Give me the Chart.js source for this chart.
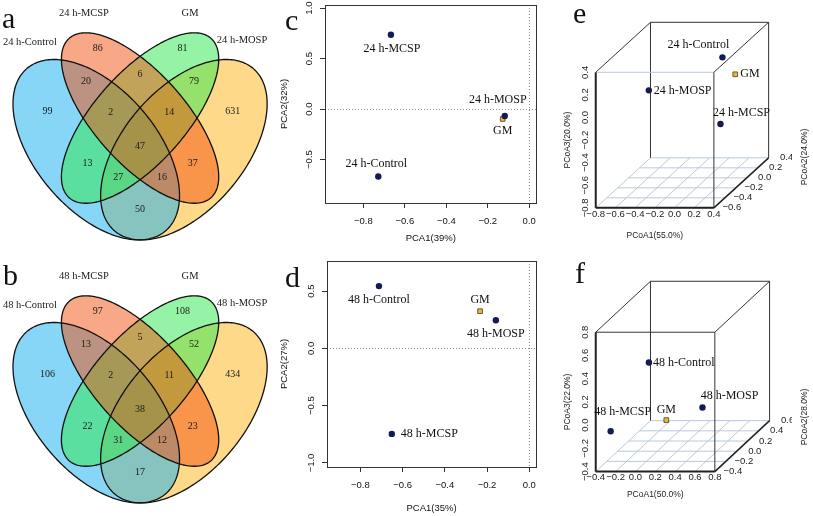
<!DOCTYPE html>
<html><head><meta charset="utf-8">
<script src="https://cdn.jsdelivr.net/npm/chart.js@4.4.1/dist/chart.umd.min.js"></script>
<style>
html,body{margin:0;padding:0;background:#fff;overflow:hidden;}
#fig{position:relative;width:813px;height:516px;background:#fff;overflow:hidden;}
#fig canvas{position:absolute;display:block;}
</style></head><body>
<div id="fig">
<canvas id="va" width="280" height="250" style="left:0px;top:0px;width:280px;height:250px"></canvas>
<canvas id="vb" width="280" height="250" style="left:0px;top:263px;width:280px;height:250px"></canvas>
<canvas id="pc" width="268" height="250" style="left:276px;top:0px;width:268px;height:250px"></canvas>
<canvas id="pd" width="268" height="260" style="left:276px;top:256px;width:268px;height:260px"></canvas>
<canvas id="pe" width="253" height="258" style="left:560px;top:0px;width:253px;height:258px"></canvas>
<canvas id="pf" width="253" height="258" style="left:560px;top:258px;width:253px;height:258px"></canvas>
</div>
<script>
// ================= DATA =================
const vennSets24 = ['24 h-Control', '24 h-MCSP', 'GM', '24 h-MOSP'];
const vennSets48 = ['48 h-Control', '48 h-MCSP', 'GM', '48 h-MOSP'];
// region order: C, M, G, O, CM, MG, GO, CMG, MGO, CMGO, CG, MO, CGO, CMO, CO
const vennRegions = ['C','M','G','O','CM','MG','GO','CMG','MGO','CMGO','CG','MO','CGO','CMO','CO'];
const vennCounts24 = [99, 86, 81, 631, 20, 6, 79, 2, 14, 47, 13, 37, 27, 16, 50];
const vennCounts48 = [106, 97, 108, 434, 13, 5, 52, 2, 11, 38, 22, 23, 31, 12, 17];

const pcaNames24 = ['24 h-MCSP', '24 h-Control', '24 h-MOSP', 'GM'];
const pca1_24 = [-0.667, -0.728, -0.118, -0.128];
const pca2_24 = [0.735, -0.667, -0.069, -0.098];
const pcaNames48 = ['48 h-Control', 'GM', '48 h-MOSP', '48 h-MCSP'];
const pca1_48 = [-0.712, -0.233, -0.158, -0.651];
const pca2_48 = [0.544, 0.325, 0.246, -0.746];
const pcaXTicks = [-0.8, -0.6, -0.4, -0.2, 0.0];
const pcaYTicks24 = [-0.5, 0.0, 0.5, 1.0];
const pcaYTicks48 = [-1.0, -0.5, 0.0, 0.5];

const pcoaNames24 = ['24 h-Control', 'GM', '24 h-MOSP', '24 h-MCSP'];
const pcoa1_24 = [0.22, 0.25, -0.60, 0.15];
const pcoa2_24 = [-0.12, 0.06, 0.01, -0.03];
const pcoa3_24 = [0.32, 0.09, -0.03, -0.31];
const pcoaNames48 = ['48 h-Control', 'GM', '48 h-MOSP', '48 h-MCSP'];
const pcoa1_48 = [-0.14, -0.02, 0.51, -0.36];
const pcoa2_48 = [0.10, 0.20, -0.10, -0.20];
const pcoa3_48 = [0.32, -0.22, 0.02, -0.14];
const pcoaXTicks24 = [-0.8, -0.6, -0.4, -0.2, 0.0, 0.2, 0.4];
const pcoaYTicks24 = [-0.6, -0.4, -0.2, 0.0, 0.2, 0.4];
const pcoaZTicks24 = [-0.8, -0.6, -0.4, -0.2, 0.0, 0.2, 0.4];
const pcoaXTicks48 = [-0.4, -0.2, 0.0, 0.2, 0.4, 0.6, 0.8];
const pcoaYTicks48 = [-0.4, -0.2, 0.0, 0.2, 0.4, 0.6];
const pcoaZTicks48 = [-0.4, -0.2, 0.0, 0.2, 0.4, 0.6, 0.8];

// ================= STYLE / LAYOUT =================
const SANS = "'Liberation Sans', Arial, Helvetica, sans-serif";
const SERIF = "'Liberation Serif', 'Times New Roman', Times, serif";
const NAVY = '#151a55', GOLD = '#e8b64a', GOLD_EDGE = '#6e5a2c';
const GRID3D = '#b9c9d9', DARK = '#333333';
Chart.defaults.font.family = SANS;
Chart.defaults.color = '#111';

const VENN_ELLIPSES = [ // drawn in this order
  {cx:0.65, cy:0.47, a:0.35, b:0.20, rot:45,  color:'rgba(255,179,21,0.5)'},
  {cx:0.35, cy:0.47, a:0.35, b:0.20, rot:135, color:'rgba(25,175,240,0.52)'},
  {cx:0.50, cy:0.57, a:0.35, b:0.15, rot:45,  color:'rgba(50,232,80,0.52)'},
  {cx:0.50, cy:0.57, a:0.35, b:0.15, rot:135, color:'rgba(241,81,13,0.5)'}
];
const VENN_REGION_POS = [[0.183,0.592],[0.355,0.791],[0.645,0.791],[0.817,0.592],[0.315,0.687],[0.5,0.709],[0.685,0.687],[0.40,0.589],[0.60,0.589],[0.5,0.479],[0.32,0.428],[0.68,0.428],[0.425,0.384],[0.575,0.384],[0.5,0.280]];
const VENN_SET_POS = [[0.123,0.810],[0.308,0.902],[0.671,0.902],[0.849,0.817]];

const fmt = v => Number(v).toFixed(1).replace('-', '\u2212');
function drawLetter(ctx, ch, x, y) {
  ctx.save(); ctx.font = '30px ' + SERIF; ctx.fillStyle = '#111';
  ctx.textAlign = 'left'; ctx.textBaseline = 'alphabetic'; ctx.fillText(ch, x, y); ctx.restore();
}
const baseOpts = () => ({responsive:false, animation:false, events:[], devicePixelRatio:1,
  plugins:{legend:{display:false}, tooltip:{enabled:false}}});

// ================= VENN =================
function makeVenn(id, sets, counts, letter, lp) {
  const opts = baseOpts();
  opts.layout = {padding:0};
  opts.scales = {
    x:{type:'linear', display:false, bounds:'data', min:0.0205, max:0.979},
    y:{type:'linear', display:false, bounds:'data', min:0.153, max:0.943}
  };
  new Chart(document.getElementById(id), {
    type:'scatter',
    data:{datasets:[
      {label:'regions', data:counts.map((c,i)=>({x:VENN_REGION_POS[i][0], y:VENN_REGION_POS[i][1]})), pointRadius:0},
      {label:'sets', data:sets.map((s,i)=>({x:VENN_SET_POS[i][0], y:VENN_SET_POS[i][1]})), pointRadius:0}
    ]},
    options:opts,
    plugins:[{
      id:'venn',
      beforeDatasetsDraw(chart) {
        const {ctx, scales:{x:sx, y:sy}} = chart;
        const paths = VENN_ELLIPSES.map(e => {
          const r = e.rot*Math.PI/180, p = new Path2D();
          for (let i=0;i<=240;i++) {
            const t = 2*Math.PI*i/240, ex = e.a*Math.cos(t), ey = e.b*Math.sin(t);
            const X = sx.getPixelForValue(e.cx + ex*Math.cos(r) - ey*Math.sin(r));
            const Y = sy.getPixelForValue(e.cy + ex*Math.sin(r) + ey*Math.cos(r));
            i ? p.lineTo(X,Y) : p.moveTo(X,Y);
          }
          p.closePath(); return p;
        });
        ctx.save();
        VENN_ELLIPSES.forEach((e,i)=>{ctx.fillStyle = e.color; ctx.fill(paths[i]);});
        ctx.strokeStyle = '#111'; ctx.lineWidth = 1.3;
        paths.forEach(p=>ctx.stroke(p));
        ctx.restore();
      },
      afterDatasetsDraw(chart) {
        const ctx = chart.ctx;
        ctx.save(); ctx.fillStyle = '#1a1a1a'; ctx.textAlign='center'; ctx.textBaseline='middle';
        ctx.font = '10px ' + SERIF;
        chart.getDatasetMeta(0).data.forEach((el,i)=>ctx.fillText(String(counts[i]), el.x, el.y));
        ctx.font = '10.5px ' + SERIF;
        chart.getDatasetMeta(1).data.forEach((el,i)=>ctx.fillText(sets[i], el.x, el.y));
        ctx.restore();
        drawLetter(ctx, letter, lp[0], lp[1]);
      }
    }]
  });
}

// ================= PCA =================
function makePCA(id, o) {
  const gm = o.names.indexOf('GM');
  const pts = o.names.map((n,i)=>({x:o.xs[i], y:o.ys[i]}));
  const opts = baseOpts();
  opts.layout = {padding:{top:o.padTop, right:4, left:0, bottom:0}};
  const grid = {drawOnChartArea:false, drawTicks:true, tickLength:5, tickColor:'#333', color:'#333', lineWidth:1};
  opts.scales = {
    x:{type:'linear', bounds:'data', min:o.xr[0], max:o.xr[1],
       afterBuildTicks:s=>{s.ticks = o.xTicks.map(v=>({value:v}));},
       afterFit:s=>{s.height = o.xAxisH;},
       grid:grid, border:{display:false},
       ticks:{autoSkip:false, maxRotation:0, minRotation:0, padding:8, color:'#111', font:{family:SANS, size:9.5}, callback:v=>fmt(v)},
       title:{display:true, text:o.xTitle, color:'#111', font:{family:SANS, size:9.5}, padding:{top:0, bottom:o.xTitlePad}}},
    y:{type:'linear', bounds:'data', min:o.yr[0], max:o.yr[1],
       afterBuildTicks:s=>{s.ticks = o.yTicks.map(v=>({value:v}));},
       afterFit:s=>{s.width = o.yAxisW;},
       grid:grid, border:{display:false},
       ticks:{display:false},
       title:{display:true, text:o.yTitle, color:'#111', font:{family:SANS, size:9.5}, padding:{top:2.3, bottom:0}}}
  };
  new Chart(document.getElementById(id), {
    type:'scatter',
    data:{datasets:[
      {data:pts.filter((p,i)=>i!==gm), pointStyle:'circle', pointRadius:3.2, backgroundColor:NAVY, borderColor:NAVY, borderWidth:0},
      {data:[pts[gm]], pointStyle:'rect', pointRadius:3.3, backgroundColor:GOLD, borderColor:GOLD_EDGE, borderWidth:1}
    ]},
    options:opts,
    plugins:[{
      id:'pca',
      beforeDatasetsDraw(chart) {
        const {ctx, chartArea:ca, scales:{x:sx, y:sy}} = chart;
        ctx.save(); ctx.strokeStyle = '#8a8a8a'; ctx.lineWidth = 1; ctx.setLineDash([1,2]);
        const y0 = Math.round(sy.getPixelForValue(0))+0.5, x0 = Math.round(sx.getPixelForValue(0))+0.5;
        ctx.beginPath(); ctx.moveTo(ca.left, y0); ctx.lineTo(ca.right, y0); ctx.stroke();
        ctx.beginPath(); ctx.moveTo(x0, ca.top); ctx.lineTo(x0, ca.bottom); ctx.stroke();
        ctx.restore();
      },
      afterDatasetsDraw(chart) {
        const {ctx, scales:{x:sx, y:sy}} = chart;
        ctx.save(); ctx.fillStyle = '#111'; ctx.font = '12px ' + SERIF; ctx.textBaseline = 'middle';
        o.names.forEach((n,i)=>{
          const off = o.offsets[i];
          ctx.textAlign = off[2];
          ctx.fillText(n, sx.getPixelForValue(o.xs[i]) + off[0], sy.getPixelForValue(o.ys[i]) + off[1]);
        });
        ctx.restore();
      },
      afterDraw(chart) {
        const {ctx, chartArea:ca, scales:{y:sy}} = chart;
        ctx.save();
        ctx.strokeStyle = '#333'; ctx.lineWidth = 1;
        ctx.strokeRect(Math.round(ca.left)+0.5, Math.round(ca.top)+0.5, Math.round(ca.right-ca.left), Math.round(ca.bottom-ca.top));
        ctx.fillStyle = '#111'; ctx.font = '9.5px ' + SANS; ctx.textAlign='center'; ctx.textBaseline='middle';
        o.yTicks.forEach(v=>{
          ctx.save(); ctx.translate(ca.left - 16, sy.getPixelForValue(v)); ctx.rotate(-Math.PI/2);
          ctx.fillText(fmt(v), 0, 0); ctx.restore();
        });
        ctx.restore();
        drawLetter(ctx, o.letter, o.letterPos[0], o.letterPos[1]);
      }
    }]
  });
}

// ================= 3D PCoA =================
function make3D(id, o) {
  const proj = (x,y,z) => {
    const d = (y - o.yr[0])/(o.yr[1]-o.yr[0]);
    return {x:(x-o.xr[0])/(o.xr[1]-o.xr[0]) + d*o.depth[0], y:(z-o.zr[0])/(o.zr[1]-o.zr[0]) + d*o.depth[1]};
  };
  const gm = o.names.indexOf('GM');
  const pts = o.names.map((n,i)=>proj(o.xs[i], o.ys[i], o.zs[i]));
  const opts = baseOpts();
  opts.layout = {padding:0};
  opts.scales = {
    x:{type:'linear', display:false, bounds:'data', min:o.ur[0], max:o.ur[1]},
    y:{type:'linear', display:false, bounds:'data', min:o.vr[0], max:o.vr[1]}
  };
  new Chart(document.getElementById(id), {
    type:'scatter',
    data:{datasets:[
      {data:pts.filter((p,i)=>i!==gm), pointStyle:'circle', pointRadius:3.2, backgroundColor:NAVY, borderColor:NAVY, borderWidth:0},
      {data:[pts[gm]], pointStyle:'rect', pointRadius:3.3, backgroundColor:GOLD, borderColor:GOLD_EDGE, borderWidth:1}
    ]},
    options:opts,
    plugins:[{
      id:'box3d',
      beforeDatasetsDraw(chart) {
        const {ctx, scales:{x:sx, y:sy}} = chart;
        const P = (x,y,z)=>{const p = proj(x,y,z); return [sx.getPixelForValue(p.x), sy.getPixelForValue(p.y)];};
        const [x0,x1] = o.xr, [y0,y1] = o.yr, [z0,z1] = o.zr;
        const line = (a,b,col,w)=>{ctx.beginPath(); ctx.strokeStyle=col; ctx.lineWidth=w; ctx.moveTo(a[0],a[1]); ctx.lineTo(b[0],b[1]); ctx.stroke();};
        ctx.save();
        o.yTicks.forEach(t=>line(P(x0,t,z0), P(x1,t,z0), GRID3D, 1));
        o.xTicks.forEach(t=>line(P(t,y0,z0), P(t,y1,z0), GRID3D, 1));
        line(P(x0,y1,z0), P(x0,y1,z1), DARK, 1);
        line(P(x0,y1,z1), P(x1,y1,z1), DARK, 1);
        line(P(x1,y1,z0), P(x1,y1,z1), DARK, 1);
        line(P(x0,y0,z1), P(x0,y1,z1), DARK, 1);
        line(P(x1,y0,z1), P(x1,y1,z1), DARK, 1);
        line(P(x0,y0,z1), P(x1,y0,z1), o.frontTopLight ? GRID3D : DARK, 1);
        line(P(x1,y0,z0), P(x1,y0,z1), DARK, 1);
        line(P(x0,y0,z0), P(x0,y0,z1), '#222', 2);
        line(P(x0,y0,z0), P(x1,y0,z0), '#222', 2);
        line(P(x1,y0,z0), P(x1,y1,z0), '#222', 1.5);
        // tick labels
        ctx.fillStyle = '#222'; ctx.font = '9.5px ' + SANS; ctx.textAlign='center'; ctx.textBaseline='middle';
        o.xTicks.forEach(t=>{const p = P(t,y0,z0); ctx.fillText(fmt(t), p[0], p[1] + o.xLabOff);});
        o.zTicks.forEach(t=>{const p = P(x0,y0,t); ctx.save(); ctx.translate(p[0]-10, p[1]); ctx.rotate(-Math.PI/2); ctx.fillText(fmt(t),0,0); ctx.restore();});
        ctx.save(); ctx.beginPath(); ctx.rect(0,0,o.yLabClip,chart.height); ctx.clip();
        o.yTicks.forEach(t=>{const p = P(x1,t,z0); ctx.fillText(fmt(t), p[0]+18, p[1]);});
        ctx.restore();
        // axis titles
        ctx.font = '8.5px ' + SANS;
        const fb0 = P(x0,y0,z0), fb1 = P(x1,y0,z0), ft0 = P(x0,y0,z1);
        ctx.fillText(o.xTitle, (fb0[0]+fb1[0])/2, fb0[1] + o.xTitleOff);
        ctx.save(); ctx.translate(fb0[0]-28, (fb0[1]+ft0[1])/2); ctx.rotate(-Math.PI/2); ctx.fillText(o.zTitle,0,0); ctx.restore();
        ctx.save(); ctx.translate(o.yTitlePos[0], o.yTitlePos[1]); ctx.rotate(-Math.PI/2); ctx.fillText(o.yTitle,0,0); ctx.restore();
        ctx.restore();
      },
      afterDatasetsDraw(chart) {
        const {ctx} = chart;
        const metas = [chart.getDatasetMeta(0), chart.getDatasetMeta(1)];
        let k = 0;
        ctx.save(); ctx.fillStyle = '#111'; ctx.font = '12px ' + SERIF; ctx.textBaseline = 'middle';
        o.names.forEach((n,i)=>{
          const el = i===gm ? metas[1].data[0] : metas[0].data[k++];
          const off = o.offsets[i];
          ctx.textAlign = off[2];
          ctx.fillText(n, el.x + off[0], el.y + off[1]);
        });
        ctx.restore();
        drawLetter(ctx, o.letter, o.letterPos[0], o.letterPos[1]);
      }
    }]
  });
}

// ================= BUILD =================
makeVenn('va', vennSets24, vennCounts24, 'a', [2, 28]);
makeVenn('vb', vennSets48, vennCounts48, 'b', [3, 22]);

makePCA('pc', {names:pcaNames24, xs:pca1_24, ys:pca2_24, xTicks:pcaXTicks, yTicks:pcaYTicks24,
  xr:[-0.985, 0.035], yr:[-0.93, 1.03], padTop:3, xAxisH:47, yAxisW:49, xTitlePad:6.3,
  xTitle:'PCA1(39%)', yTitle:'PCA2(32%)', letter:'c', letterPos:[9, 30],
  offsets:[[1,14,'center'],[-2,-13,'center'],[-7,-16,'center'],[0,12,'center']]});
makePCA('pd', {names:pcaNames48, xs:pca1_48, ys:pca2_48, xTicks:pcaXTicks, yTicks:pcaYTicks48,
  xr:[-0.958, 0.033], yr:[-1.035, 0.763], padTop:5, xAxisH:49, yAxisW:51, xTitlePad:2.3,
  xTitle:'PCA1(35%)', yTitle:'PCA2(27%)', letter:'d', letterPos:[9, 31],
  offsets:[[0,14,'center'],[0,-11,'center'],[0,14,'center'],[9,0,'left']]});

make3D('pe', {names:pcoaNames24, xs:pcoa1_24, ys:pcoa2_24, zs:pcoa3_24,
  xr:[-0.8,0.4], yr:[-0.6,0.4], zr:[-0.8,0.4], xTicks:pcoaXTicks24, yTicks:pcoaYTicks24, zTicks:pcoaZTicks24,
  depth:[0.4634, 0.3688], ur:[-0.2602, 1.7967], vr:[-0.3333, 1.4965],
  frontTopLight:true, xLabOff:7, xTitleOff:28, yLabClip:232, yTitlePos:[245,157],
  xTitle:'PCoA1(55.0%)', yTitle:'PCoA2(24.0%)', zTitle:'PCoA3(20.0%)', letter:'e', letterPos:[13, 23],
  offsets:[[-24,-12,'center'],[5,0,'left'],[5,0,'left'],[21,-11,'center']]});
make3D('pf', {names:pcoaNames48, xs:pcoa1_48, ys:pcoa2_48, zs:pcoa3_48,
  xr:[-0.4,0.8], yr:[-0.4,0.6], zr:[-0.4,0.8], xTicks:pcoaXTicks48, yTicks:pcoaYTicks48, zTicks:pcoaZTicks48,
  depth:[0.4597, 0.3655], ur:[-0.2581, 1.7823], vr:[-0.2828, 1.4966],
  frontTopLight:false, xLabOff:6, xTitleOff:23, yLabClip:232, yTitlePos:[245,159],
  xTitle:'PCoA1(50.0%)', yTitle:'PCoA2(28.0%)', zTitle:'PCoA3(22.0%)', letter:'f', letterPos:[15, 25],
  offsets:[[4,0,'left'],[0,-10,'center'],[27,-12,'center'],[12,-19,'center']]});
</script>
</body></html>
